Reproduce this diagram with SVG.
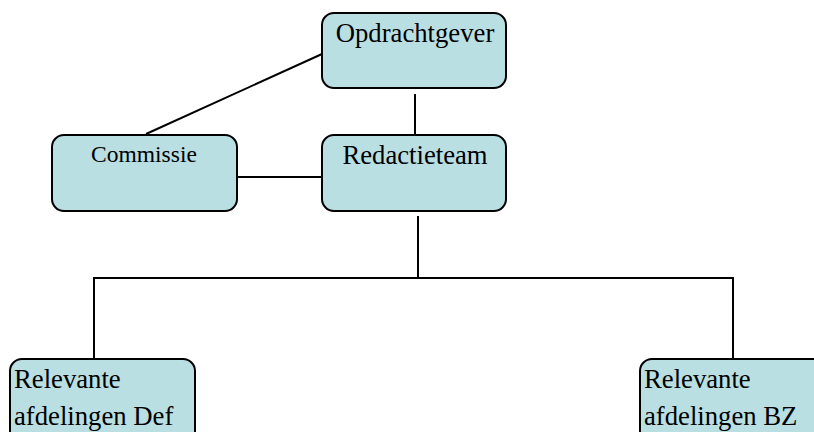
<svg xmlns="http://www.w3.org/2000/svg" width="814" height="432" viewBox="0 0 814 432">
<style>
.box{fill:#BADFE3;stroke:#000;stroke-width:2}
.t{font-family:"Liberation Serif","Times New Roman",serif;font-size:26.7px;fill:#000}
.c{stroke:#000;stroke-width:2;fill:none}
</style>
<rect width="814" height="432" fill="#fff"/>
<g id="connectors">
<line class="c" x1="322" y1="54" x2="146" y2="134"/>
<line class="c" x1="415" y1="94" x2="415" y2="135"/>
<line class="c" x1="237" y1="177" x2="322" y2="177"/>
<line class="c" x1="418" y1="216" x2="418" y2="278"/>
<polyline class="c" points="94,359 94,278 733,278 733,359"/>
</g>
<g id="opdrachtgever">
<rect class="box" x="322" y="13" width="184" height="75" rx="12"/>
<text class="t" x="415" y="42" text-anchor="middle">Opdrachtgever</text>
</g>
<g id="commissie">
<rect class="box" x="52" y="135" width="185" height="76" rx="12"/>
<text class="t" x="144" y="162" text-anchor="middle" style="font-size:23.5px">Commissie</text>
</g>
<g id="redactieteam">
<rect class="box" x="322" y="135" width="184" height="76" rx="12"/>
<text class="t" x="415" y="164" text-anchor="middle">Redactieteam</text>
</g>
<g id="def">
<rect class="box" x="10" y="359" width="185" height="90" rx="12"/>
<text class="t" x="14" y="388">Relevante</text>
<text class="t" x="14" y="425">afdelingen Def</text>
</g>
<g id="bz">
<rect class="box" x="640" y="359" width="190" height="90" rx="12"/>
<text class="t" x="644" y="388">Relevante</text>
<text class="t" x="644" y="425">afdelingen BZ</text>
</g>
</svg>
